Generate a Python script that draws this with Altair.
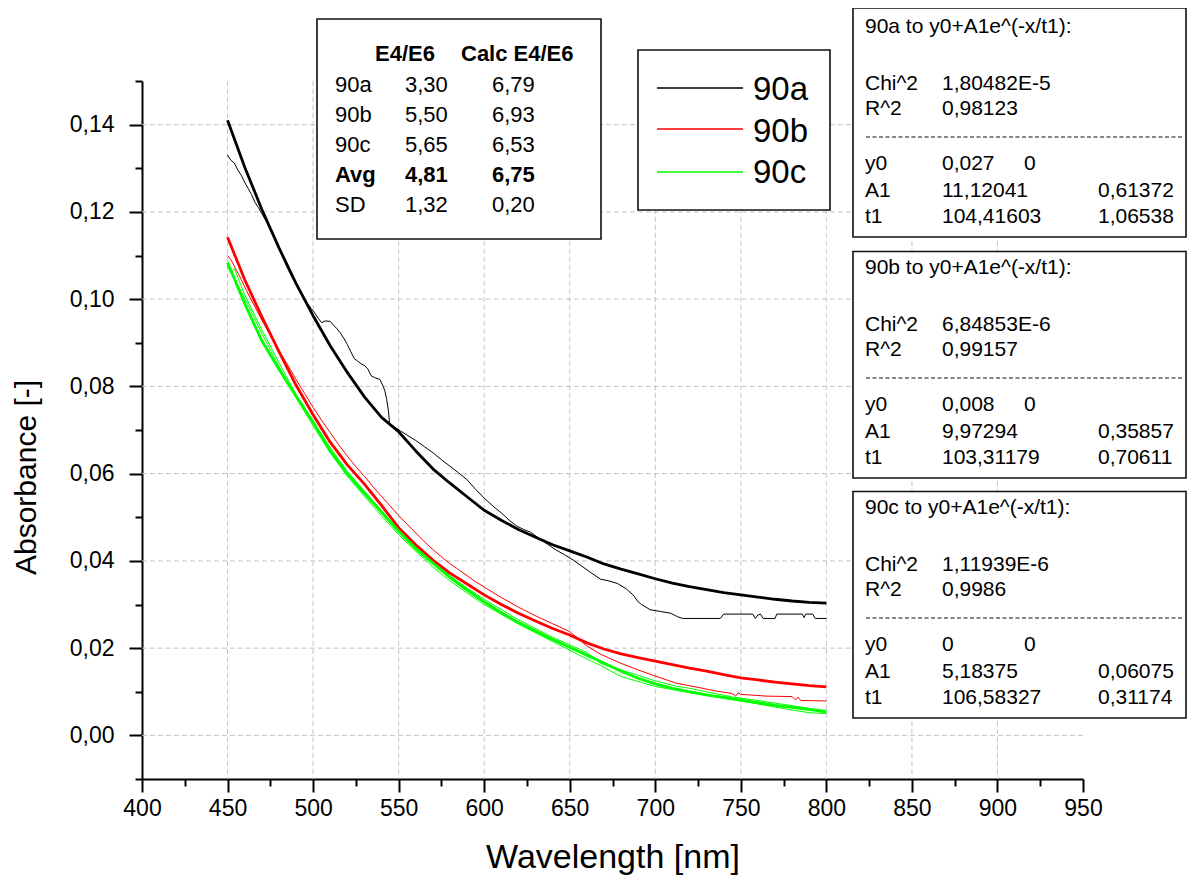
import altair as alt
import pandas as pd

# ---------------- data ----------------
series_names = ["90a", "90b", "90c"]
series_colors = ["#000000", "#ff0000", "#00ff00"]

# fitted curves (thick lines)
fit_wl = [450, 460, 470, 480, 490, 500, 510, 520, 530, 540, 550, 560, 570, 580, 590,
          600, 610, 620, 630, 640, 650, 660, 670, 680, 690, 700, 710, 720, 730, 740,
          750, 760, 770, 780, 790, 800]
fit_90a = [0.1410, 0.1303, 0.1206, 0.1118, 0.1036, 0.0962, 0.0893, 0.0832, 0.0776, 0.0729,
           0.0696, 0.0652, 0.0611, 0.0578, 0.0547, 0.0516, 0.0493, 0.0472, 0.0454, 0.0437,
           0.0423, 0.0409, 0.0393, 0.0381, 0.0370, 0.0359, 0.0349, 0.0341, 0.0334, 0.0327,
           0.0322, 0.0317, 0.0312, 0.0308, 0.0305, 0.0303]
fit_90b = [0.1142, 0.1045, 0.0960, 0.0880, 0.0803, 0.0735, 0.0672, 0.0620, 0.0576, 0.0527,
           0.0476, 0.0437, 0.0402, 0.0372, 0.0347, 0.0322, 0.0300, 0.0280, 0.0262, 0.0245,
           0.0230, 0.0212, 0.0198, 0.0187, 0.0178, 0.0170, 0.0162, 0.0154, 0.0147, 0.0139,
           0.0132, 0.0127, 0.0122, 0.0118, 0.0114, 0.0111]
fit_90c = [0.1084, 0.0990, 0.0905, 0.0840, 0.0778, 0.0718, 0.0652, 0.0600, 0.0555, 0.0512,
           0.0468, 0.0428, 0.0395, 0.0362, 0.0333, 0.0306, 0.0281, 0.0259, 0.0239, 0.0220,
           0.0202, 0.0184, 0.0166, 0.0147, 0.0131, 0.0118, 0.0108, 0.0100, 0.0093, 0.0087,
           0.0081, 0.0075, 0.0069, 0.0064, 0.0059, 0.0054]

# measured spectra (thin lines)
data_90a_wl = [450, 452, 454, 456, 458, 460, 462, 464, 466, 468, 470, 473, 476, 478, 481, 484,
               487, 490, 493, 496, 499, 501, 503, 505, 507, 510, 512, 514, 516, 518, 520, 522,
               524, 526, 528, 530, 532, 534, 536, 539, 541, 542, 543, 544, 544.7, 546, 548, 551,
               555, 560, 565, 570, 575, 580, 585, 590, 595, 600, 605, 610, 615, 619, 623, 627,
               632, 637, 642, 647, 652, 657, 662, 668, 673, 678, 683, 687, 690, 692, 697, 703,
               709, 713, 716, 738, 740, 757, 758.5, 760, 761.5, 763, 770, 771, 786, 787, 788,
               792, 793.5, 800]
data_90a_ab = [0.1330, 0.1318, 0.1312, 0.1296, 0.1284, 0.1268, 0.1254, 0.1240, 0.1222, 0.1210,
               0.1196, 0.1176, 0.1150, 0.1135, 0.1112, 0.1080, 0.1056, 0.1034, 0.1012, 0.0994,
               0.0978, 0.0968, 0.0956, 0.0946, 0.0950, 0.0949, 0.0940, 0.0932, 0.0922, 0.0910,
               0.0896, 0.0880, 0.0864, 0.0858, 0.0852, 0.0848, 0.0840, 0.0824, 0.0820, 0.0816,
               0.0800, 0.0789, 0.0770, 0.0745, 0.0717, 0.0712, 0.0706, 0.0698, 0.0688, 0.0676,
               0.0662, 0.0648, 0.0632, 0.0617, 0.0602, 0.0586, 0.0564, 0.0544, 0.0526, 0.0510,
               0.0492, 0.0480, 0.0472, 0.0466, 0.0452, 0.0438, 0.0425, 0.0414, 0.0402, 0.0388,
               0.0374, 0.0358, 0.0354, 0.0348, 0.0336, 0.0322, 0.0306, 0.0300, 0.0288, 0.0284,
               0.0280, 0.0272, 0.0268, 0.0268, 0.0278, 0.0278, 0.0268, 0.0276, 0.0278, 0.0268,
               0.0268, 0.0278, 0.0278, 0.0270, 0.0278, 0.0278, 0.0268, 0.0268]

data_90b_wl = [450, 452, 455, 458, 461, 465, 470, 475, 480, 485, 490, 495, 500, 505, 510, 515,
               520, 525, 530, 535, 540, 545, 550, 555, 560, 565, 570, 576, 580, 585, 590, 595,
               600, 610, 620, 630, 640, 650, 660, 668, 680, 690, 700, 712, 725, 735, 745, 747,
               748.5, 750, 765, 780, 782, 783.5, 785, 800]
data_90b_ab = [0.1100, 0.1090, 0.1068, 0.1045, 0.1020, 0.0990, 0.0952, 0.0918, 0.0882, 0.0850,
               0.0816, 0.0784, 0.0752, 0.0722, 0.0694, 0.0666, 0.0640, 0.0616, 0.0594, 0.0570,
               0.0548, 0.0526, 0.0504, 0.0484, 0.0464, 0.0444, 0.0426, 0.0406, 0.0394, 0.0380,
               0.0366, 0.0352, 0.0340, 0.0316, 0.0294, 0.0274, 0.0256, 0.0238, 0.0205, 0.0186,
               0.0165, 0.0150, 0.0136, 0.0120, 0.0110, 0.0102, 0.0096, 0.0090, 0.0098, 0.0094,
               0.0090, 0.0089, 0.0081, 0.0088, 0.0080, 0.0079]

data_90c1_wl = [450, 452, 454, 456, 460, 470, 480, 490, 500, 510, 520, 530, 540, 550, 560, 570,
                580, 590, 600, 620, 640, 660, 668, 680, 700, 713, 720, 740, 745, 760, 780, 790, 800]
data_90c1_ab = [0.1077, 0.1060, 0.1070, 0.1050, 0.1010, 0.0930, 0.0855, 0.0782, 0.0720, 0.0660,
                0.0605, 0.0560, 0.0515, 0.0470, 0.0432, 0.0398, 0.0366, 0.0338, 0.0312, 0.0265,
                0.0225, 0.0190, 0.0165, 0.0150, 0.0125, 0.0112, 0.0108, 0.0092, 0.0088, 0.0080,
                0.0068, 0.0062, 0.0057]
data_90c2_wl = [450, 455, 460, 470, 480, 490, 500, 510, 520, 530, 540, 550, 560, 570, 580, 590,
                600, 620, 640, 660, 668, 680, 700, 720, 740, 760, 780, 790, 800]
data_90c2_ab = [0.1075, 0.1040, 0.1002, 0.0922, 0.0846, 0.0774, 0.0710, 0.0648, 0.0594, 0.0548,
                0.0503, 0.0460, 0.0422, 0.0386, 0.0354, 0.0326, 0.0300, 0.0255, 0.0215, 0.0175,
                0.0160, 0.0135, 0.0112, 0.0098, 0.0085, 0.0072, 0.0058, 0.0052, 0.0050]

# axis ticks
x_major = [400, 450, 500, 550, 600, 650, 700, 750, 800, 850, 900, 950]
x_minor = [425, 475, 525, 575, 625, 675, 725, 775, 825, 875, 925]
x_grid = [450, 500, 550, 600, 650, 700, 750, 800, 850, 900]
y_major = [0.00, 0.02, 0.04, 0.06, 0.08, 0.10, 0.12, 0.14]
y_minor = [-0.01, 0.01, 0.03, 0.05, 0.07, 0.09, 0.11, 0.13, 0.15]
y_grid = [0.00, 0.02, 0.04, 0.06, 0.08, 0.10, 0.12, 0.14]

# E4/E6 table
tbl_rows = ["90a", "90b", "90c", "Avg", "SD"]
tbl_e4e6 = ["3,30", "5,50", "5,65", "4,81", "1,32"]
tbl_calc = ["6,79", "6,93", "6,53", "6,75", "0,20"]
tbl_bold = [False, False, False, True, False]

# fit result boxes
fit_titles = ["90a to y0+A1e^(-x/t1):", "90b to y0+A1e^(-x/t1):", "90c to y0+A1e^(-x/t1):"]
fit_chi2 = ["1,80482E-5", "6,84853E-6", "1,11939E-6"]
fit_r2 = ["0,98123", "0,99157", "0,9986"]
fit_y0 = ["0,027", "0,008", "0"]
fit_y0_err = ["0", "0", "0"]
fit_a1 = ["11,12041", "9,97294", "5,18375"]
fit_a1_err = ["0,61372", "0,35857", "0,06075"]
fit_t1 = ["104,41603", "103,31179", "106,58327"]
fit_t1_err = ["1,06538", "0,70611", "0,31174"]

# ---------------- build tables ----------------
rows = []
def add(wls, abs_, name, kind, grp):
    for w, a in zip(wls, abs_):
        rows.append({"wl": w, "ab": a, "series": name, "kind": kind, "grp": grp})

add(data_90a_wl, data_90a_ab, "90a", "data", "a_data")
add(data_90b_wl, data_90b_ab, "90b", "data", "b_data")
add(data_90c1_wl, data_90c1_ab, "90c", "data", "c_data1")
add(data_90c2_wl, data_90c2_ab, "90c", "data", "c_data2")
add(fit_wl, fit_90a, "90a", "fit", "a_fit")
add(fit_wl, fit_90b, "90b", "fit", "b_fit")
add(fit_wl, fit_90c, "90c", "fit", "c_fit")
lines_df = pd.DataFrame(rows)

OX, OY = 142, 81   # plot origin in page pixels (used only for annotation layout)
FONT = "Liberation Sans"

def P(x, y):
    return x - OX, y - OY

# annotation boxes (page px)
box_rows = []
for (x1, y1, x2, y2) in [(317, 19, 601, 239), (638, 50, 830, 210),
                         (853, 8, 1186, 237), (853, 251.5, 1186, 478), (853, 491.5, 1186, 718)]:
    a, b = P(x1, y1)
    c, d = P(x2, y2)
    box_rows.append({"x1": a, "y1": b, "x2": c, "y2": d})
boxes_df = pd.DataFrame(box_rows)

txt_norm = []
txt_bold = []
def T(lst, x, y, s, size):
    a, b = P(x, y)
    lst.append({"px": a, "py": b, "t": s, "fs": size})

TS = 22
T(txt_bold, 375, 61, "E4/E6", TS)
T(txt_bold, 461, 61, "Calc E4/E6", TS)
for i, (r, e, c, bo) in enumerate(zip(tbl_rows, tbl_e4e6, tbl_calc, tbl_bold)):
    yy = 92 + 30 * i
    tgt = txt_bold if bo else txt_norm
    T(tgt, 335, yy, r, TS)
    T(tgt, 405, yy, e, TS)
    T(tgt, 492, yy, c, TS)

# legend
leg_y = [88, 129, 172]
leg_base = [100, 142, 183]
leg_rows = []
for n, col, ly, lb in zip(series_names, series_colors, leg_y, leg_base):
    a, b = P(657, ly)
    c, _ = P(743, ly)
    leg_rows.append({"x1": a, "x2": c, "y": b, "col": col})
    T(txt_norm, 753, lb, n, 33)
leg_df = pd.DataFrame(leg_rows)

# fit boxes
FS = 21
dash_rows = []
for i, off in enumerate([0, 241, 481]):
    T(txt_norm, 865, 33 + off, fit_titles[i], FS)
    T(txt_norm, 865, 90 + off, "Chi^2", FS)
    T(txt_norm, 942, 90 + off, fit_chi2[i], FS)
    T(txt_norm, 865, 115 + off, "R^2", FS)
    T(txt_norm, 942, 115 + off, fit_r2[i], FS)
    T(txt_norm, 865, 170 + off, "y0", FS)
    T(txt_norm, 942, 170 + off, fit_y0[i], FS)
    T(txt_norm, 1024, 170 + off, fit_y0_err[i], FS)
    T(txt_norm, 865, 197 + off, "A1", FS)
    T(txt_norm, 942, 197 + off, fit_a1[i], FS)
    T(txt_norm, 1098, 197 + off, fit_a1_err[i], FS)
    T(txt_norm, 865, 223 + off, "t1", FS)
    T(txt_norm, 942, 223 + off, fit_t1[i], FS)
    T(txt_norm, 1098, 223 + off, fit_t1_err[i], FS)
    a, b = P(866, 137 + off)
    c, _ = P(1182, 137 + off)
    dash_rows.append({"x1": a, "x2": c, "y": b})
dash_df = pd.DataFrame(dash_rows)

# ---------------- chart ----------------
xs = alt.Scale(domain=[400, 950], nice=False, zero=False)
ys = alt.Scale(domain=[-0.01, 0.15], nice=False, zero=False)

axis_common = dict(domainColor="black", domainWidth=2, tickColor="black", tickWidth=2,
                   labelFont=FONT, labelColor="black", grid=False,
                   titleFont=FONT, titleColor="black", titleFontWeight="normal")

grid_x = alt.Chart(pd.DataFrame({"gx": x_grid})).mark_rule(
    color="#c4c4c4", strokeWidth=1, strokeDash=[5, 3]).encode(
    x=alt.X("gx:Q", scale=xs, axis=None))
grid_y = alt.Chart(pd.DataFrame({"gy": y_grid})).mark_rule(
    color="#c4c4c4", strokeWidth=1, strokeDash=[5, 3]).encode(
    y=alt.Y("gy:Q", scale=ys, axis=None))

lines = alt.Chart(lines_df).mark_line(strokeJoin="round").encode(
    x=alt.X("wl:Q", scale=xs, axis=alt.Axis(
        values=x_major, title="Wavelength [nm]", tickSize=13, labelFontSize=23,
        labelPadding=5, titleFontSize=34, titleY=88, titleBaseline="alphabetic",
        labelFlush=False, labelOverlap=False, **axis_common)),
    y=alt.Y("ab:Q", scale=ys, axis=alt.Axis(
        values=y_major, title="Absorbance [-]", tickSize=13, labelFontSize=23,
        labelPadding=15, titleFontSize=30, titleX=-107, titleY=396, titleAngle=270,
        titleAlign="center", titleBaseline="alphabetic", labelFlush=False, labelOverlap=False,
        labelExpr="replace(format(datum.value, '.2f'), '.', ',')", **axis_common)),
    color=alt.Color("series:N", scale=alt.Scale(domain=series_names, range=series_colors), legend=None),
    size=alt.Size("kind:O", scale=alt.Scale(domain=["fit", "data"], range=[2.8, 1.0]), legend=None),
    detail="grp:N",
)

minor = alt.Chart(lines_df).mark_point(opacity=0).encode(
    x=alt.X("wl:Q", scale=xs, axis=alt.Axis(values=x_minor, labels=False, domain=False, grid=False,
                                            tickSize=7, tickWidth=2, tickColor="black",
                                            orient="bottom", title="")),
    y=alt.Y("ab:Q", scale=ys, axis=alt.Axis(values=y_minor, labels=False, domain=False, grid=False,
                                            tickSize=7, tickWidth=2, tickColor="black",
                                            orient="left", title="")),
)

boxes = alt.Chart(boxes_df).mark_rect(fill="white", stroke="#111111", strokeWidth=1.6).encode(
    x=alt.X("x1:Q", scale=None, axis=None), x2="x2:Q",
    y=alt.Y("y1:Q", scale=None, axis=None), y2="y2:Q")

leg_lines = alt.Chart(leg_df).mark_rule(strokeWidth=1.6).encode(
    x=alt.X("x1:Q", scale=None, axis=None), x2="x2:Q",
    y=alt.Y("y:Q", scale=None, axis=None),
    color=alt.Color("col:N", scale=None, legend=None))

dashes = alt.Chart(dash_df).mark_rule(strokeWidth=1.1, strokeDash=[4, 2.5], color="#111111").encode(
    x=alt.X("x1:Q", scale=None, axis=None), x2="x2:Q",
    y=alt.Y("y:Q", scale=None, axis=None))

def text_layer(df, weight):
    return alt.Chart(df).mark_text(align="left", baseline="alphabetic", font=FONT,
                                   fontWeight=weight, color="black").encode(
        x=alt.X("px:Q", scale=None, axis=None),
        y=alt.Y("py:Q", scale=None, axis=None),
        text="t:N",
        size=alt.Size("fs:Q", scale=None, legend=None))

texts_n = text_layer(pd.DataFrame(txt_norm), "normal")
texts_b = text_layer(pd.DataFrame(txt_bold), "bold")

chart = alt.layer(grid_x, grid_y, lines, minor, boxes, leg_lines, dashes, texts_n, texts_b).resolve_axis(
    x="independent", y="independent"
).properties(
    width=941, height=698,
    padding={"left": 134, "top": 73, "right": 104, "bottom": 96},
    autosize=alt.AutoSizeParams(type="none"),
    background="white",
).configure_view(stroke=None)

chart.save("out.html", embed_options={"renderer": "svg", "actions": False})
